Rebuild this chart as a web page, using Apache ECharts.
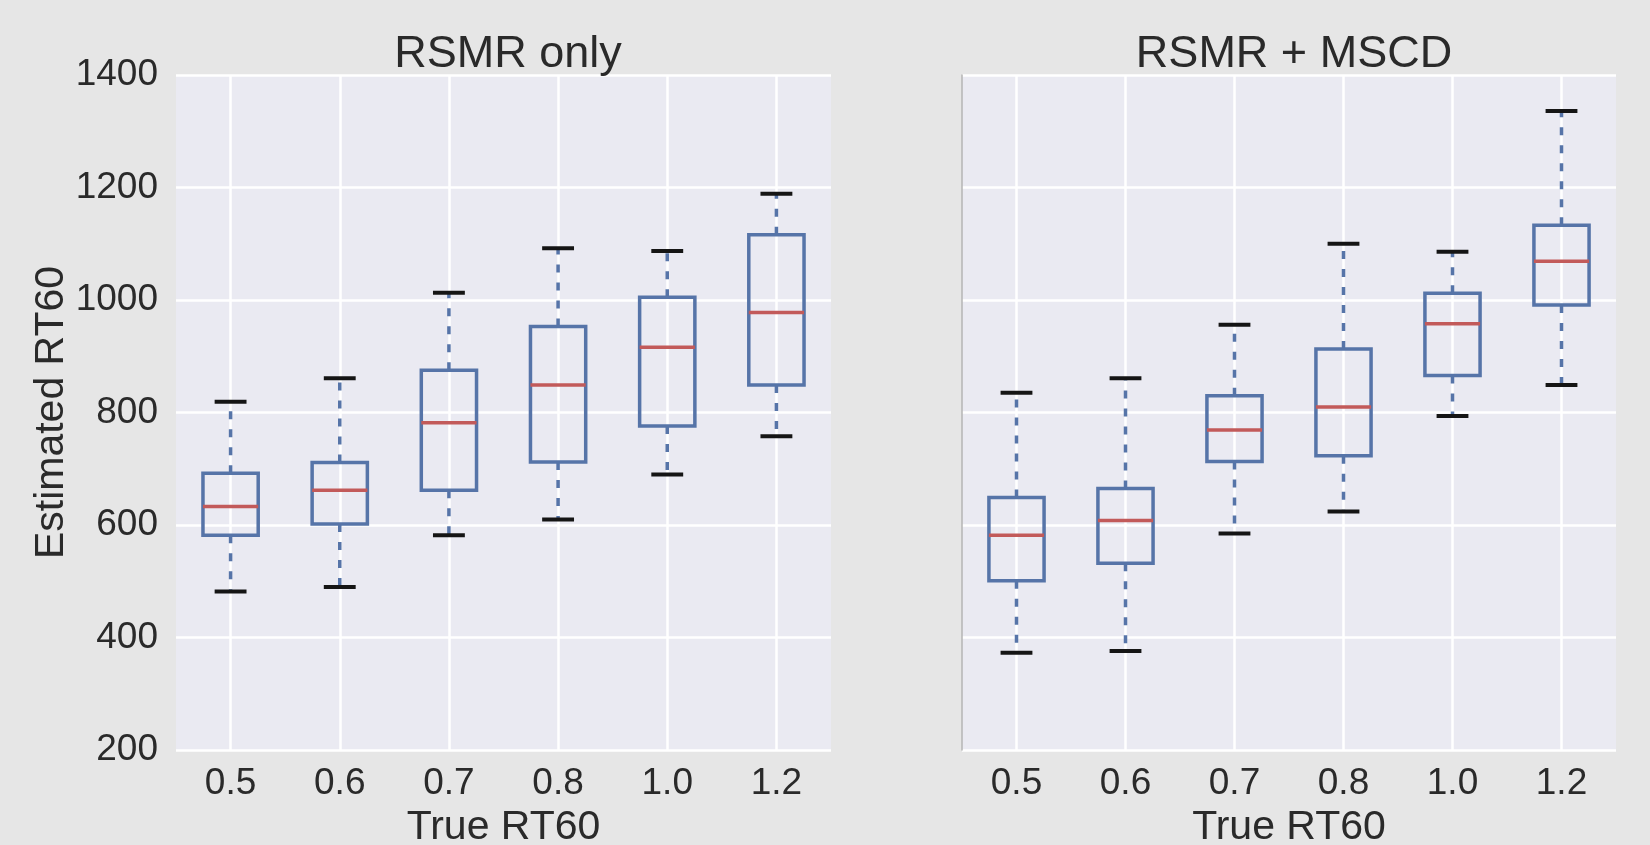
<!DOCTYPE html>
<html>
<head>
<meta charset="utf-8">
<script src="https://cdn.jsdelivr.net/npm/echarts@6/dist/echarts.min.js"></script>
<style>
html,body{margin:0;padding:0;background:#e6e6e6;}
#chart{width:1650px;height:845px;}
</style>
</head>
<body>
<div id="chart"></div>
<script>
// ---- data ----
const categories = ['0.5', '0.6', '0.7', '0.8', '1.0', '1.2'];
const panelTitles = ['RSMR only', 'RSMR + MSCD'];
const xAxisName = 'True RT60';
const yAxisName = 'Estimated RT60';
const yMin = 200, yMax = 1400, yStep = 200;

// RSMR only
const onlyLow  = [482, 490, 582, 610, 690, 758];
const onlyQ1   = [582, 602, 662, 712, 776, 849];
const onlyMed  = [633, 662, 782, 849, 916, 978];
const onlyQ3   = [692, 711, 875, 953, 1005, 1116];
const onlyHigh = [819, 861, 1013, 1092, 1087, 1189];

// RSMR + MSCD
const mscdLow  = [373, 376, 585, 624, 794, 849];
const mscdQ1   = [501, 532, 713, 723, 866, 991];
const mscdMed  = [582, 608, 769, 810, 958, 1069];
const mscdQ3   = [649, 665, 830, 913, 1012, 1133];
const mscdHigh = [835, 861, 956, 1100, 1086, 1336];

function rows(low, q1, med, q3, high) {
  return categories.map((c, i) => [i, low[i], q1[i], med[i], q3[i], high[i]]);
}

const FONT = "'Liberation Sans', Arial, sans-serif";
const TXT = '#2a2a2a';
const BLUE = '#5674a8';
const RED = '#c25a5a';

function renderBox(params, api) {
  const i = api.value(0);
  const low = api.value(1), q1 = api.value(2), med = api.value(3), q3 = api.value(4), high = api.value(5);
  const band = api.size([1, 0])[0];
  const hb = band * 0.253, hc = band * 0.146;
  const pL = api.coord([i, low]), p1 = api.coord([i, q1]), pM = api.coord([i, med]),
        p3 = api.coord([i, q3]), pH = api.coord([i, high]);
  const x = pM[0];
  const dash = { stroke: BLUE, lineWidth: 3.5, lineDash: [8, 10], fill: null };
  return {
    type: 'group',
    children: [
      { type: 'line', shape: { x1: x, y1: p1[1], x2: x, y2: pL[1] }, style: dash },
      { type: 'line', shape: { x1: x, y1: p3[1], x2: x, y2: pH[1] }, style: dash },
      { type: 'rect', shape: { x: x - hb, y: p3[1], width: 2 * hb, height: p1[1] - p3[1] },
        style: { fill: null, stroke: BLUE, lineWidth: 3.5 } },
      { type: 'line', shape: { x1: x - hb, y1: pM[1], x2: x + hb, y2: pM[1] },
        style: { stroke: RED, lineWidth: 3.5 } },
      { type: 'line', shape: { x1: x - hc, y1: pL[1], x2: x + hc, y2: pL[1] },
        style: { stroke: '#151515', lineWidth: 4 } },
      { type: 'line', shape: { x1: x - hc, y1: pH[1], x2: x + hc, y2: pH[1] },
        style: { stroke: '#151515', lineWidth: 4 } }
    ]
  };
}

function xAxis(gi) {
  return {
    type: 'category', gridIndex: gi, data: categories,
    name: xAxisName, nameLocation: 'middle', nameGap: 55,
    nameTextStyle: { fontSize: 41, color: TXT, fontFamily: FONT },
    axisLine: { show: false }, axisTick: { show: false, alignWithLabel: true },
    axisLabel: { fontSize: 37, color: TXT, fontFamily: FONT, margin: 15 },
    splitLine: { show: true, alignWithLabel: true, lineStyle: { color: '#ffffff', width: 2.5 } }
  };
}
function yAxis(gi, showLabels) {
  return {
    type: 'value', gridIndex: gi, min: yMin, max: yMax, interval: yStep,
    name: showLabels ? yAxisName : '', nameLocation: 'middle', nameGap: 89,
    nameTextStyle: { fontSize: 41, color: TXT, fontFamily: FONT },
    axisLine: { show: !showLabels, lineStyle: { color: '#b5b5b5', width: 1.5 } },
    axisTick: { show: false },
    axisLabel: { show: showLabels, fontSize: 37, color: TXT, fontFamily: FONT, margin: 18,
      formatter: v => String(v) },
    splitLine: { show: true, lineStyle: { color: '#ffffff', width: 2.5 } }
  };
}

const chart = echarts.init(document.getElementById('chart'), null, { renderer: 'canvas' });
chart.setOption({
  backgroundColor: '#e6e6e6',
  animation: false,
  title: [
    { text: panelTitles[0], left: 503, top: 27, textAlign: 'center',
      textStyle: { fontSize: 45, fontWeight: 'normal', color: TXT, fontFamily: FONT } },
    { text: panelTitles[1], left: 1289, top: 27, textAlign: 'center',
      textStyle: { fontSize: 45, fontWeight: 'normal', color: TXT, fontFamily: FONT } }
  ],
  grid: [
    { left: 176, right: 819, top: 75, bottom: 95, show: true, backgroundColor: '#eaeaf2', borderWidth: 0,
      containLabel: false, outerBoundsMode: 'none' },
    { left: 962, right: 34, top: 75, bottom: 95, show: true, backgroundColor: '#eaeaf2', borderWidth: 0,
      containLabel: false, outerBoundsMode: 'none' }
  ],
  xAxis: [xAxis(0), xAxis(1)],
  yAxis: [yAxis(0, true), yAxis(1, false)],
  series: [
    { type: 'custom', xAxisIndex: 0, yAxisIndex: 0, renderItem: renderBox,
      encode: { x: 0, y: [1, 2, 3, 4, 5] },
      data: rows(onlyLow, onlyQ1, onlyMed, onlyQ3, onlyHigh) },
    { type: 'custom', xAxisIndex: 1, yAxisIndex: 1, renderItem: renderBox,
      encode: { x: 0, y: [1, 2, 3, 4, 5] },
      data: rows(mscdLow, mscdQ1, mscdMed, mscdQ3, mscdHigh) }
  ]
});
</script>
</body>
</html>
